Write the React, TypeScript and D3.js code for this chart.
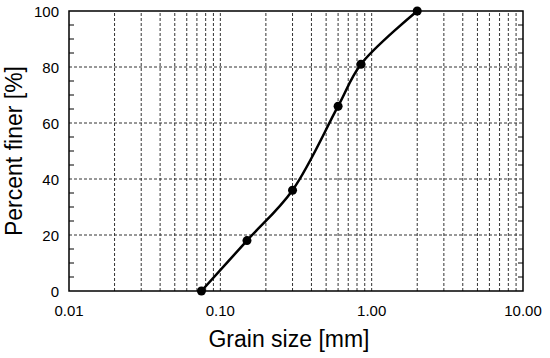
import React, { useRef, useEffect } from 'react'
import * as d3 from 'd3'

const grainSize = [0.075, 0.15, 0.3, 0.6, 0.85, 2.0]
const percentFiner = [0, 18, 36, 66, 81, 100]
const xTickValues = [0.01, 0.1, 1, 10]
const yTickValues = [0, 20, 40, 60, 80, 100]

const App = () => {
    const svgRef = useRef<SVGSVGElement>(null)

    useEffect(() => {
        const svg = d3.select(svgRef.current)
        const width = 550
        const height = 358
        const margin = { top: 11, right: 27, bottom: 67, left: 69 }
        const font = '"Liberation Sans", Arial, sans-serif'

        svg.selectAll('*').remove()

        const xScale = d3.scaleLog().domain([0.01, 10]).range([margin.left, width - margin.right])
        const yScale = d3.scaleLinear().domain([0, 100]).range([height - margin.bottom, margin.top])

        const x0 = margin.left
        const x1 = width - margin.right
        const y0 = height - margin.bottom
        const y1 = margin.top

        // vertical grid at every log step
        const minorX: number[] = []
        for (let d = 0.01; d < 10; d *= 10) {
            for (let k = 2; k <= 9; k++) minorX.push(d * k)
        }
        minorX.push(0.1, 1)
        svg.append('g')
            .selectAll('line')
            .data(minorX)
            .enter()
            .append('line')
            .attr('x1', (d) => xScale(d))
            .attr('x2', (d) => xScale(d))
            .attr('y1', y0)
            .attr('y2', y1)
            .attr('stroke', '#333')
            .attr('stroke-width', 1)
            .attr('stroke-dasharray', '3,2')

        // horizontal grid
        svg.append('g')
            .selectAll('line')
            .data([20, 40, 60, 80])
            .enter()
            .append('line')
            .attr('x1', x0)
            .attr('x2', x1)
            .attr('y1', (d) => yScale(d))
            .attr('y2', (d) => yScale(d))
            .attr('stroke', '#333')
            .attr('stroke-width', 1)
            .attr('stroke-dasharray', '3,2')

        // minor y ticks inward on both sides
        const yMinor = d3.range(5, 100, 5).filter((v) => v % 20 !== 0)
        svg.append('g')
            .selectAll('line')
            .data(yMinor)
            .enter()
            .append('line')
            .attr('x1', x0)
            .attr('x2', x0 + 5)
            .attr('y1', (d) => yScale(d))
            .attr('y2', (d) => yScale(d))
            .attr('stroke', '#000')
        svg.append('g')
            .selectAll('line')
            .data(yMinor)
            .enter()
            .append('line')
            .attr('x1', x1)
            .attr('x2', x1 - 5)
            .attr('y1', (d) => yScale(d))
            .attr('y2', (d) => yScale(d))
            .attr('stroke', '#000')

        // frame
        svg.append('rect')
            .attr('x', x0)
            .attr('y', y1)
            .attr('width', x1 - x0)
            .attr('height', y0 - y1)
            .attr('fill', 'none')
            .attr('stroke', '#000')
            .attr('stroke-width', 1.5)

        //tick labels
        svg.append('g')
            .selectAll('text')
            .data(xTickValues)
            .enter()
            .append('text')
            .attr('x', (d) => xScale(d))
            .attr('y', y0 + 25)
            .attr('text-anchor', 'middle')
            .style('font-family', font)
            .style('font-size', '15px')
            .text((d) => d3.format('.2f')(d))

        svg.append('g')
            .selectAll('text')
            .data(yTickValues)
            .enter()
            .append('text')
            .attr('x', x0 - 10)
            .attr('y', (d) => yScale(d) + 6)
            .attr('text-anchor', 'end')
            .style('font-family', font)
            .style('font-size', '15px')
            .text((d) => d)

        //axis labels
        svg.append('text')
            .attr('x', 289)
            .attr('y', 347)
            .attr('text-anchor', 'middle')
            .style('font-family', font)
            .style('font-size', '23px')
            .text('Grain size [mm]')

        svg.append('text')
            .attr('transform', `translate(22, ${(y0 + y1) / 2}) rotate(-90)`)
            .attr('text-anchor', 'middle')
            .style('font-family', font)
            .style('font-size', '23px')
            .text('Percent finer [%]')

        const points = grainSize.map((g, i) => [g, percentFiner[i]] as [number, number])

        const line = d3
            .line<[number, number]>()
            .x((d) => xScale(d[0]))
            .y((d) => yScale(d[1]))
            .curve(d3.curveCatmullRom)

        svg.append('path')
            .datum(points)
            .attr('fill', 'none')
            .attr('stroke', '#000')
            .attr('stroke-width', 2.5)
            .attr('d', line)

        svg.append('g')
            .selectAll('circle')
            .data(points)
            .enter()
            .append('circle')
            .attr('cx', (d) => xScale(d[0]))
            .attr('cy', (d) => yScale(d[1]))
            .attr('r', 4.5)
            .attr('fill', '#000')
    }, [])

    return (
        <svg
            ref={svgRef}
            width={550}
            height={358}
            style={{ position: 'absolute', left: 0, top: 0, background: '#fff' }}
        />
    )
}

export default App
